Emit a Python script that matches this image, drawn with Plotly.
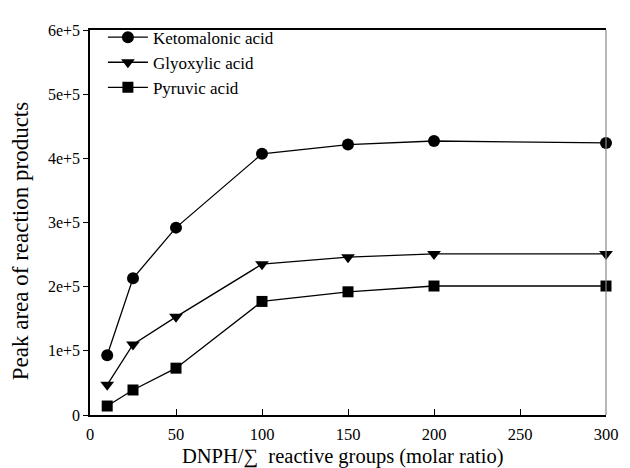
import plotly.graph_objects as go

x_ratio = [10, 25, 50, 100, 150, 200, 300]
ketomalonic = [93000, 213000, 292000, 407000, 421500, 427000, 424000]
glyoxylic = [47000, 110000, 153000, 235000, 246000, 251000, 251000]
pyruvic = [14000, 39000, 73000, 177000, 192000, 201000, 201000]

series_names = ["Ketomalonic acid", "Glyoxylic acid", "Pyruvic acid"]
y_tick_vals = [0, 100000, 200000, 300000, 400000, 500000, 600000]
y_tick_text = ["0", "1e+5", "2e+5", "3e+5", "4e+5", "5e+5", "6e+5"]
x_tick_vals = [0, 50, 100, 150, 200, 250, 300]
x_title = "DNPH/\u2211  reactive groups (molar ratio)"
y_title = "Peak area of reaction products"

FONT = "Liberation Serif"

fig = go.Figure()
symbols = ["circle", "triangle-down", "square"]
sizes = [12, 12, 11]
for name, vals, sym, sz in zip(series_names, [ketomalonic, glyoxylic, pyruvic], symbols, sizes):
    fig.add_trace(go.Scatter(
        x=x_ratio, y=vals, name=name, mode="lines+markers",
        line=dict(color="black", width=1.3),
        marker=dict(symbol=sym, size=sz, color="black"),
        cliponaxis=False,
    ))

# page body has an 8px default margin, so the figure is 8px smaller than the window
fig.update_layout(
    width=622, height=460,
    margin=dict(l=82, r=17, t=15, b=53),
    paper_bgcolor="white", plot_bgcolor="white",
    font=dict(family=FONT, color="black", size=16),
    showlegend=True,
    legend=dict(
        x=0.025, y=1.027, xanchor="left", yanchor="top",
        bgcolor="rgba(0,0,0,0)", font=dict(size=17, family=FONT, color="black"),
        tracegroupgap=0, itemwidth=40,
    ),
    xaxis=dict(
        range=[0, 300], tickvals=x_tick_vals,
        ticks="inside", ticklen=6, tickcolor="black",
        showline=True, linecolor="black", linewidth=1.5, mirror=True,
        showgrid=False, zeroline=False, ticklabelstandoff=3,
        tickfont=dict(size=16.5, family=FONT, color="black"),
    ),
    yaxis=dict(
        range=[0, 600000], tickvals=y_tick_vals, ticktext=y_tick_text,
        ticks="outside", ticklen=5, tickcolor="black",
        showline=True, linecolor="black", linewidth=1.5,
        showgrid=False, zeroline=False,
        tickfont=dict(size=16, family=FONT, color="black"),
    ),
    annotations=[
        dict(text=y_title, textangle=-90,
             xref="paper", yref="paper", x=0, y=0.45, xanchor="center", yanchor="middle",
             xshift=-69.5, showarrow=False,
             font=dict(size=23, family=FONT, color="black")),
        dict(text=x_title,
             xref="paper", yref="paper", x=0.49, y=0, xanchor="center", yanchor="middle",
             yshift=-41, showarrow=False,
             font=dict(size=20.5, family=FONT, color="black")),
    ],
    shapes=[dict(type="line", xref="paper", yref="paper", x0=1, x1=1, y0=0, y1=1,
                 line=dict(color="#888888", width=1.2))],
)

fig.write_html("out.html")
